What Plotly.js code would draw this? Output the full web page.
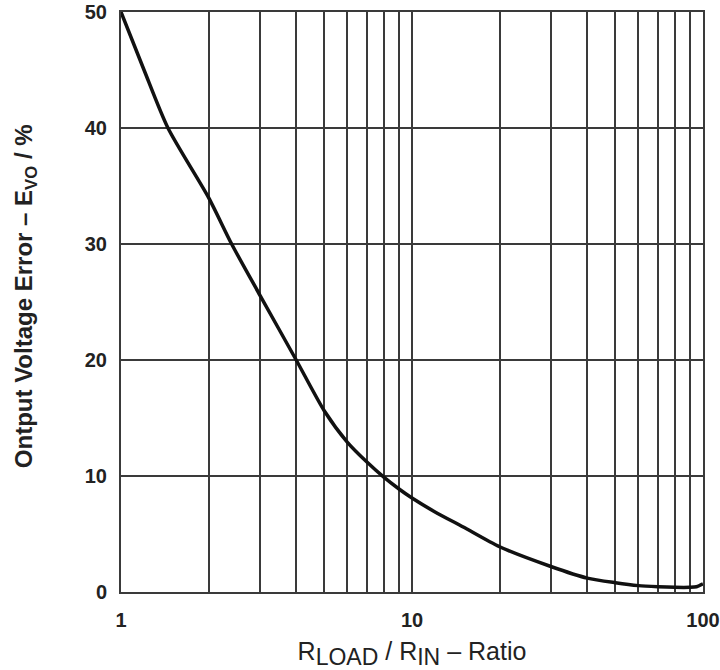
<!DOCTYPE html>
<html>
<head>
<meta charset="utf-8">
<script src="https://cdn.plot.ly/plotly-3.0.1.min.js"></script>
<style>
html, body { margin: 0; padding: 0; background: #ffffff; }
#chart { width: 720px; height: 670px; }
</style>
</head>
<body>
<div id="chart"></div>
<script>
// Curve: load/input resistance ratio vs output voltage error (%)
const ratio = [1, 1.2, 1.45, 2, 2.4, 3, 4, 5, 6, 7, 8, 9, 10, 12, 15, 20, 30, 40, 50, 60, 70, 80, 90, 95, 100];
const errorPct = [50, 45, 40, 34, 30, 25.6, 20, 15.6, 12.9, 11.2, 9.9, 8.9, 8.1, 6.9, 5.6, 3.9, 2.2, 1.2, 0.8, 0.55, 0.45, 0.4, 0.4, 0.45, 0.7];

// Axis ticks
const xGridVals = [1,2,3,4,5,6,7,8,9,10,20,30,40,50,60,70,80,90,100];
const xLabelVals = [1, 10, 100];
const xTickText = xGridVals.map(v => xLabelVals.includes(v) ? String(v) : '');
const yTickVals = [0, 10, 20, 30, 40, 50];
const yTickText = ['0', '10', '20', '30', '40', '50'];

const gridColor = '#3a3a3a';
const fontFam = '"Liberation Sans", Arial, sans-serif';

const trace = {
  x: ratio,
  y: errorPct,
  type: 'scatter',
  mode: 'lines',
  line: { color: '#111111', width: 3.5, shape: 'spline', smoothing: 0.7 },
  hoverinfo: 'skip',
  showlegend: false
};

const layout = {
  width: 720,
  height: 670,
  margin: { l: 121, r: 17, t: 12, b: 78 },
  paper_bgcolor: '#ffffff',
  plot_bgcolor: '#ffffff',
  font: { family: fontFam, color: '#222222' },
  xaxis: {
    type: 'log',
    range: [0, 2],
    tickmode: 'array',
    tickvals: xGridVals,
    ticktext: xTickText,
    showgrid: true,
    gridcolor: gridColor,
    gridwidth: 2,
    showline: true,
    mirror: true,
    linecolor: gridColor,
    linewidth: 2,
    ticks: '',
    ticklabelstandoff: 9,
    tickfont: { family: fontFam, size: 20, weight: 'bold', color: '#222222' },
    zeroline: false,
    title: {
      text: 'R<sub><span style="font-size:23px">LOAD</span></sub> / R<sub><span style="font-size:23px">IN</span></sub> – Ratio',
      font: { family: fontFam, size: 25, color: '#222222' },
      standoff: 12
    }
  },
  yaxis: {
    range: [0, 50],
    tickmode: 'array',
    tickvals: yTickVals,
    ticktext: yTickText,
    showgrid: true,
    gridcolor: gridColor,
    gridwidth: 2,
    showline: true,
    mirror: true,
    linecolor: gridColor,
    linewidth: 2,
    ticks: '',
    ticklabelstandoff: 8,
    tickfont: { family: fontFam, size: 20, weight: 'bold', color: '#222222' },
    zeroline: false
  },
  annotations: [{
    xref: 'paper', yref: 'paper',
    x: -0.165, y: 0.51,
    xanchor: 'center', yanchor: 'middle',
    textangle: -90,
    showarrow: false,
    text: 'Ontput Voltage Error – E<sub>VO</sub> / %',
    font: { family: fontFam, size: 24, weight: 'bold', color: '#222222' }
  }]
};

Plotly.newPlot('chart', [trace], layout, { displayModeBar: false, staticPlot: true });
</script>
</body>
</html>
